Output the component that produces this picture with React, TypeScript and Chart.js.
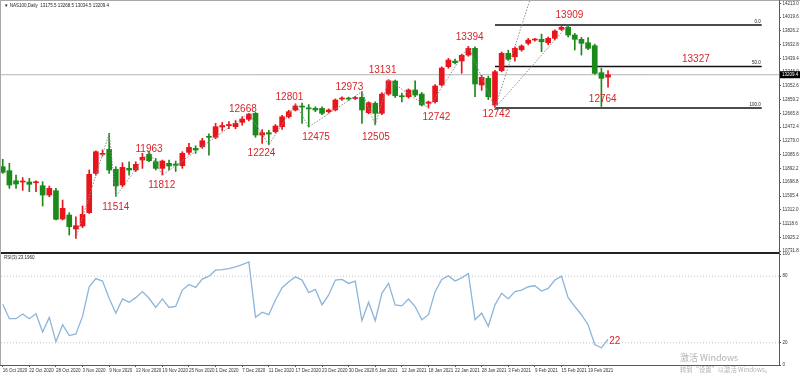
import React, { useEffect, useRef } from 'react';
import { Chart, registerables } from 'chart.js';

Chart.register(...registerables);

// ---------- data (bar index 0 = 16 Oct 2020, 91 = 24 Feb 2021) ----------
const OPEN = [11917, 11861, 11720, 11702, 11702, 11692, 11650, 11519, 11580, 11182,
  11238, 11042, 11084, 11271, 11824, 12091, 12162, 11880, 11660, 11894,
  11871, 12011, 12091, 11987, 11894, 11965, 11955, 11931, 12119, 12175,
  12198, 12345, 12330, 12475, 12494, 12479, 12541, 12583, 12667, 12362,
  12395, 12409, 12479, 12619, 12714, 12770, 12740, 12737, 12737, 12690,
  12714, 12868, 12878, 12875, 12892, 12676, 12808, 12667, 12938, 13121,
  12914, 12900, 12995, 12938, 12808, 12830, 13065, 13322, 13402, 13402,
  13486, 13580, 13065, 13159, 12784, 13266, 13510, 13462, 13560, 13651,
  13697, 13707, 13659, 13721, 13847, 13875, 13767, 13707, 13659, 13617,
  13238, 13175.5];
const HIGH = [12021, 11965, 11800, 11764, 11754, 11720, 11706, 11646, 11613, 11449,
  11271, 11214, 11365, 11871, 12140, 12152, 12386, 11917, 11973, 11987,
  11987, 12105, 12137, 12033, 12011, 12011, 11997, 12128, 12245, 12212,
  12316, 12380, 12526, 12540, 12550, 12566, 12620, 12668, 12680, 12440,
  12430, 12510, 12640, 12710, 12801, 12810, 12790, 12760, 12760, 12730,
  12870, 12900, 12895, 12905, 12973, 12830, 12830, 12960, 13140, 13135,
  12950, 13010, 13125, 12960, 12840, 13070, 13320, 13440, 13430, 13500,
  13610, 13600, 13200, 13190, 13270, 13530, 13555, 13600, 13630, 13720,
  13720, 13780, 13740, 13840, 13890, 13909, 13790, 13735, 13730, 13640,
  13300, 13268.5];
const LOW = [11824, 11613, 11613, 11585, 11566, 11566, 11365, 11495, 11168, 11168,
  10957, 10911, 11060, 11260, 11800, 12067, 11824, 11500, 11636, 11800,
  11850, 11894, 11987, 11871, 11800, 11871, 11850, 11894, 12091, 12105,
  12175, 12080, 12310, 12420, 12450, 12450, 12500, 12560, 12330, 12245,
  12224, 12390, 12440, 12600, 12700, 12527, 12475, 12690, 12650, 12670,
  12700, 12850, 12850, 12860, 12527, 12660, 12505, 12650, 12920, 12890,
  12826, 12880, 12900, 12770, 12742, 12810, 13050, 13300, 13360, 13230,
  13470, 12900, 12990, 12860, 12742, 13250, 13410, 13400, 13540, 13630,
  13680, 13533, 13630, 13700, 13830, 13740, 13557, 13486, 13560, 13215,
  12764, 13034.5];
const CLOSE = [11838, 11660, 11674, 11716, 11670, 11706, 11519, 11613, 11178, 11332,
  11074, 11088, 11248, 11810, 12128, 12105, 11871, 11646, 11908, 11871,
  11950, 12049, 12001, 11894, 11997, 11927, 11936, 12105, 12189, 12152,
  12282, 12330, 12479, 12496, 12510, 12527, 12587, 12657, 12362, 12395,
  12376, 12489, 12619, 12690, 12770, 12755, 12730, 12714, 12667, 12714,
  12854, 12878, 12868, 12882, 12714, 12816, 12667, 12938, 13125, 12914,
  12900, 12995, 12924, 12784, 12826, 13051, 13304, 13416, 13378, 13482,
  13580, 13079, 13173, 12900, 13252, 13510, 13426, 13580, 13613, 13697,
  13707, 13673, 13721, 13824, 13875, 13767, 13707, 13651, 13580, 13229,
  13159, 13209.4];

const RSI = [54.8, 41.7, 41.7, 45.9, 41.7, 46.2, 29.8, 42.9, 20.9, 36.3,
  26.5, 28.0, 43.8, 70.5, 77.9, 75.6, 60.1, 46.7, 59.5, 56.6,
  60.7, 66.1, 60.1, 51.8, 59.5, 51.8, 52.7, 67.5, 72.6, 69.9,
  77.4, 80.0, 85.4, 86.0, 86.9, 88.4, 90.4, 92.8, 42.9, 47.6,
  45.3, 58.6, 69.6, 75.0, 79.4, 76.5, 65.2, 68.1, 54.2, 63.1,
  76.5, 77.1, 73.5, 75.6, 39.9, 56.6, 39.9, 64.6, 73.5, 54.2,
  53.3, 59.5, 52.7, 40.8, 45.3, 66.1, 77.1, 80.3, 75.6, 78.5,
  82.4, 40.8, 46.7, 34.9, 54.2, 64.6, 59.5, 66.1, 67.5, 70.5,
  71.4, 66.6, 69.0, 76.5, 80.0, 60.7, 52.7, 45.3, 36.3, 18.5,
  15.5, 23.2];

const PRICE_TICKS = [14213.0, 14019.6, 13826.2, 13632.8, 13439.4, 13246.0, 13052.6, 12859.2,
  12665.8, 12472.4, 12279.0, 12085.6, 11892.2, 11698.8, 11505.4, 11312.0, 11118.6, 10925.2, 10731.8];
const RSI_TICKS = [0, 20, 80, 100];
const RSI_LEVELS = [80, 20];
const DATE_TICK_INDEX = [0, 4, 8, 12, 16, 20, 24, 28, 32, 36, 40, 44, 48, 52, 56, 60, 64, 68, 72, 76, 80, 84, 88];
const DATE_TICK_LABELS = ['16 Oct 2020', '22 Oct 2020', '28 Oct 2020', '3 Nov 2020', '9 Nov 2020', '13 Nov 2020',
  '19 Nov 2020', '25 Nov 2020', '1 Dec 2020', '7 Dec 2020', '11 Dec 2020', '17 Dec 2020', '23 Dec 2020',
  '30 Dec 2020', '6 Jan 2021', '12 Jan 2021', '18 Jan 2021', '22 Jan 2021', '28 Jan 2021', '3 Feb 2021',
  '9 Feb 2021', '15 Feb 2021', '19 Feb 2021'];

const ZIGZAG_X = [11, 16, 17, 22, 24, 37, 40, 44, 46, 54, 56, 58, 64, 70, 74, 85];
const ZIGZAG_Y = [10911, 12386, 11500, 12137, 11800, 12668, 12224, 12801, 12475, 12973, 12505, 13140, 12742, 13610, 12742, 13909];
const STEEP_X = [74, 79.2];
const STEEP_Y = [12742, 14245];

const FIB_LEVELS = [13909, 13325.5, 12742];
const FIB_LABELS = ['0.0', '50.0', '100.0'];
const FIB_START = 74;
const FIB_END = 114.1;
const LAST_PRICE = 13209.4;

const NOTE_TEXTS = ['12668', '11963', '11514', '11812', '12224', '12801', '12973', '13131', '12475', '12505',
  '12742', '13394', '12742', '13909', '13327', '12764'];
const NOTE_X = [36.1, 22.0, 17.0, 23.9, 38.9, 43.1, 52.1, 57.1, 47.1, 56.1, 65.2, 70.2, 74.2, 85.2, 104.2, 90.2];
const NOTE_Y = [12721, 12163, 11344, 11660, 12109, 12896, 13037, 13271, 12334, 12334, 12619, 13739, 12650, 14041, 13430, 12871];
const RSI_NOTE = { text: '22', x: 92.0, y: 21.8 };

const HEADER = '\u25BC NAS100,Daily  13175.5 13268.5 13034.5 13209.4';
const RSI_HEADER = 'RSI(3) 23.1960';
const WATERMARK_1 = '激活 Windows';
const WATERMARK_2 = '转到“设置”以激活 Windows。';

// ---------- ranges / styles ----------
const X_MIN = -0.26;
const X_MAX = 116.7;
const PRICE_MIN = 10718.8;
const PRICE_MAX = 14245.4;
const UP = '#e8161c';
const DOWN = '#1b8a1b';
const NOTE_RED = '#d8232a';
const FONT = '"Liberation Sans", Arial, sans-serif';

function fixWidth(w: number) {
  return (s: any) => {
    s.width = w;
    s.paddingTop = 0; s.paddingBottom = 0; s.paddingLeft = 0; s.paddingRight = 0;
  };
}

export default function App() {
  const mainRef = useRef<HTMLCanvasElement>(null);
  const rsiRef = useRef<HTMLCanvasElement>(null);

  useEffect(() => {
    const idx = OPEN.map((_, i) => i);
    const colors = idx.map(i => (CLOSE[i] >= OPEN[i] ? UP : DOWN));
    const fullX = [X_MIN, X_MAX];

    const mainDecor = {
      id: 'mainDecor',
      afterDraw(chart: any) {
        const { ctx, chartArea: a, scales } = chart;
        const xs = scales.x, ys = scales.y;
        ctx.save();
        const ln = (x1: number, y1: number, x2: number, y2: number) => {
          ctx.beginPath(); ctx.moveTo(x1, y1); ctx.lineTo(x2, y2); ctx.stroke();
        };
        ctx.lineWidth = 1;
        ctx.strokeStyle = '#a9a9a9';
        ln(0, a.top - 0.5, 800, a.top - 0.5);
        ln(a.left - 0.5, 0, a.left - 0.5, chart.height);
        ctx.strokeStyle = '#5a5a5a';
        ln(a.right + 0.5, 0, a.right + 0.5, chart.height);
        ctx.strokeStyle = '#222';
        ln(0, a.bottom + 0.5, a.right + 1, a.bottom + 0.5);

        // notes
        ctx.font = `10px ${FONT}`;
        ctx.fillStyle = NOTE_RED;
        ctx.textAlign = 'center';
        ctx.textBaseline = 'middle';
        NOTE_TEXTS.forEach((t, i) => ctx.fillText(t, xs.getPixelForValue(NOTE_X[i]), ys.getPixelForValue(NOTE_Y[i])));

        // fib labels
        ctx.font = `4.5px ${FONT}`;
        ctx.fillStyle = '#222';
        ctx.textAlign = 'right';
        ctx.textBaseline = 'bottom';
        FIB_LEVELS.forEach((lv, i) => ctx.fillText(FIB_LABELS[i], xs.getPixelForValue(FIB_END) - 1, ys.getPixelForValue(lv) - 1));

        // header
        ctx.textAlign = 'left';
        ctx.textBaseline = 'middle';
        ctx.font = `4.5px ${FONT}`;
        ctx.fillStyle = '#222';
        ctx.fillText(HEADER, a.left + 3, a.top + 4.5);

        // last price box
        const py = ys.getPixelForValue(LAST_PRICE);
        ctx.fillStyle = '#000';
        ctx.fillRect(a.right + 1, py - 3.5, 21, 7);
        ctx.fillStyle = '#fff';
        ctx.font = `4.5px ${FONT}`;
        ctx.fillText(LAST_PRICE.toFixed(1), a.right + 3, py);
        ctx.restore();
      },
    };

    const main = new Chart(mainRef.current as HTMLCanvasElement, {
      type: 'bar',
      data: {
        datasets: [
          {
            type: 'line', label: 'zigzag', order: 0,
            data: ZIGZAG_X.map((x, i) => ({ x, y: ZIGZAG_Y[i] })),
            borderColor: '#8c8c8c', borderWidth: 1, borderDash: [1.5, 1.5], pointRadius: 0, tension: 0,
          } as any,
          {
            type: 'line', label: 'steep', order: 0,
            data: STEEP_X.map((x, i) => ({ x, y: STEEP_Y[i] })),
            borderColor: '#8c8c8c', borderWidth: 1, borderDash: [1.5, 1.5], pointRadius: 0, tension: 0,
          } as any,
          {
            type: 'bar', label: 'body', order: 1, grouped: false,
            data: idx.map(i => ({ x: i, y: [OPEN[i], CLOSE[i]] })),
            backgroundColor: colors, borderWidth: 0, barThickness: 5, maxBarThickness: 5, minBarLength: 1,
          } as any,
          {
            type: 'bar', label: 'wick', order: 2, grouped: false,
            data: idx.map(i => ({ x: i, y: [LOW[i], HIGH[i]] })),
            backgroundColor: colors, borderWidth: 0, barThickness: 1, maxBarThickness: 1,
          } as any,
          ...FIB_LEVELS.map(lv => ({
            type: 'line', label: 'fib', order: 3,
            data: [{ x: FIB_START, y: lv }, { x: FIB_END, y: lv }],
            borderColor: '#111', borderWidth: 1.6, pointRadius: 0,
          } as any)),
          {
            type: 'line', label: 'last', order: 5,
            data: fullX.map(x => ({ x, y: LAST_PRICE })),
            borderColor: '#b4b4b4', borderWidth: 1, pointRadius: 0,
          } as any,
        ],
      },
      options: {
        responsive: false,
        animation: false,
        devicePixelRatio: 1,
        events: [],
        layout: { padding: { top: 1, bottom: 1, left: 1, right: 0 } },
        plugins: { legend: { display: false }, tooltip: { enabled: false } },
        scales: {
          x: { type: 'linear', min: X_MIN, max: X_MAX, display: false, offset: false, grid: { offset: false } },
          y: {
            type: 'linear', position: 'right', min: PRICE_MIN, max: PRICE_MAX,
            afterBuildTicks: (s: any) => { s.ticks = PRICE_TICKS.map(v => ({ value: v })); },
            afterFit: fixWidth(21),
            ticks: {
              callback: (v: any) => Number(v).toFixed(1), font: { family: FONT, size: 4.5 }, color: '#333',
              padding: 1.5, autoSkip: false,
            },
            grid: { drawOnChartArea: false, drawTicks: true, tickLength: 2, color: '#555' },
            border: { display: false },
          },
        },
      } as any,
      plugins: [mainDecor],
    });

    const rsiDecor = {
      id: 'rsiDecor',
      afterDraw(chart: any) {
        const { ctx, chartArea: a, scales } = chart;
        const xs = scales.x, ys = scales.y;
        ctx.save();
        const ln = (x1: number, y1: number, x2: number, y2: number) => {
          ctx.beginPath(); ctx.moveTo(x1, y1); ctx.lineTo(x2, y2); ctx.stroke();
        };
        ctx.lineWidth = 1;
        ctx.strokeStyle = '#222';
        ln(0, a.top - 0.5, a.right + 1, a.top - 0.5);
        ctx.strokeStyle = '#a9a9a9';
        ln(a.left - 0.5, 0, a.left - 0.5, a.bottom + 1);
        ctx.strokeStyle = '#5a5a5a';
        ln(a.right + 0.5, 0, a.right + 0.5, a.bottom + 1);
        ln(0, a.bottom + 0.5, a.right + 1, a.bottom + 0.5);

        ctx.font = `4.5px ${FONT}`;
        ctx.fillStyle = '#222';
        ctx.textAlign = 'left';
        ctx.textBaseline = 'middle';
        ctx.fillText(RSI_HEADER, a.left + 3, a.top + 3.5);

        ctx.font = `10px ${FONT}`;
        ctx.fillStyle = NOTE_RED;
        ctx.textAlign = 'center';
        ctx.fillText(RSI_NOTE.text, xs.getPixelForValue(RSI_NOTE.x), ys.getPixelForValue(RSI_NOTE.y));

        ctx.textAlign = 'left';
        ctx.textBaseline = 'alphabetic';
        ctx.fillStyle = '#b2b2b2';
        ctx.font = `9px "Noto Sans CJK SC", ${FONT}`;
        ctx.fillText(WATERMARK_1, 680, a.bottom - 4);
        ctx.font = `6.3px "Noto Sans CJK SC", ${FONT}`;
        ctx.fillText(WATERMARK_2, 680, a.bottom + 7);
        ctx.restore();
      },
    };

    const rsi = new Chart(rsiRef.current as HTMLCanvasElement, {
      type: 'line',
      data: {
        datasets: [
          {
            label: 'rsi', order: 0,
            data: idx.map(i => ({ x: i, y: RSI[i] })),
            borderColor: '#8db4d9', borderWidth: 1.3, pointRadius: 0, tension: 0,
          },
          ...RSI_LEVELS.map(lv => ({
            label: 'lvl', order: 2,
            data: fullX.map(x => ({ x, y: lv })),
            borderColor: '#c4c4c4', borderWidth: 1, borderDash: [1, 2], pointRadius: 0,
          })),
        ],
      },
      options: {
        responsive: false,
        animation: false,
        devicePixelRatio: 1,
        events: [],
        layout: { padding: { top: 2, bottom: 0, left: 1, right: 0 } },
        plugins: { legend: { display: false }, tooltip: { enabled: false } },
        scales: {
          x: {
            type: 'linear', min: X_MIN, max: X_MAX, offset: false,
            afterBuildTicks: (s: any) => { s.ticks = DATE_TICK_INDEX.map(v => ({ value: v })); },
            afterFit: (s: any) => { s.height = 10; s.paddingLeft = 0; s.paddingRight = 0; },
            ticks: {
              callback: (_v: any, i: number) => DATE_TICK_LABELS[i], align: 'start',
              font: { family: FONT, size: 4.5 }, color: '#333', padding: 1, autoSkip: false,
              maxRotation: 0, minRotation: 0,
            },
            grid: { offset: false, drawOnChartArea: false, drawTicks: true, tickLength: 2, color: '#555' },
            border: { display: false },
          },
          y: {
            type: 'linear', position: 'right', min: 0, max: 100,
            afterBuildTicks: (s: any) => { s.ticks = RSI_TICKS.map(v => ({ value: v })); },
            afterFit: fixWidth(21),
            ticks: { font: { family: FONT, size: 4.5 }, color: '#333', padding: 1.5, autoSkip: false },
            grid: { drawOnChartArea: false, drawTicks: true, tickLength: 2, color: '#555' },
            border: { display: false },
          },
        },
      } as any,
      plugins: [rsiDecor],
    });

    return () => { main.destroy(); rsi.destroy(); };
  }, []);

  return (
    <div style={{ position: 'fixed', left: 0, top: 0, width: 800, height: 375, background: '#fff', overflow: 'hidden' }}>
      <canvas ref={mainRef} width={800} height={253}
        style={{ position: 'absolute', left: 0, top: 0, width: 800, height: 253, display: 'block' }} />
      <canvas ref={rsiRef} width={800} height={123}
        style={{ position: 'absolute', left: 0, top: 252, width: 800, height: 123, display: 'block' }} />
    </div>
  );
}
